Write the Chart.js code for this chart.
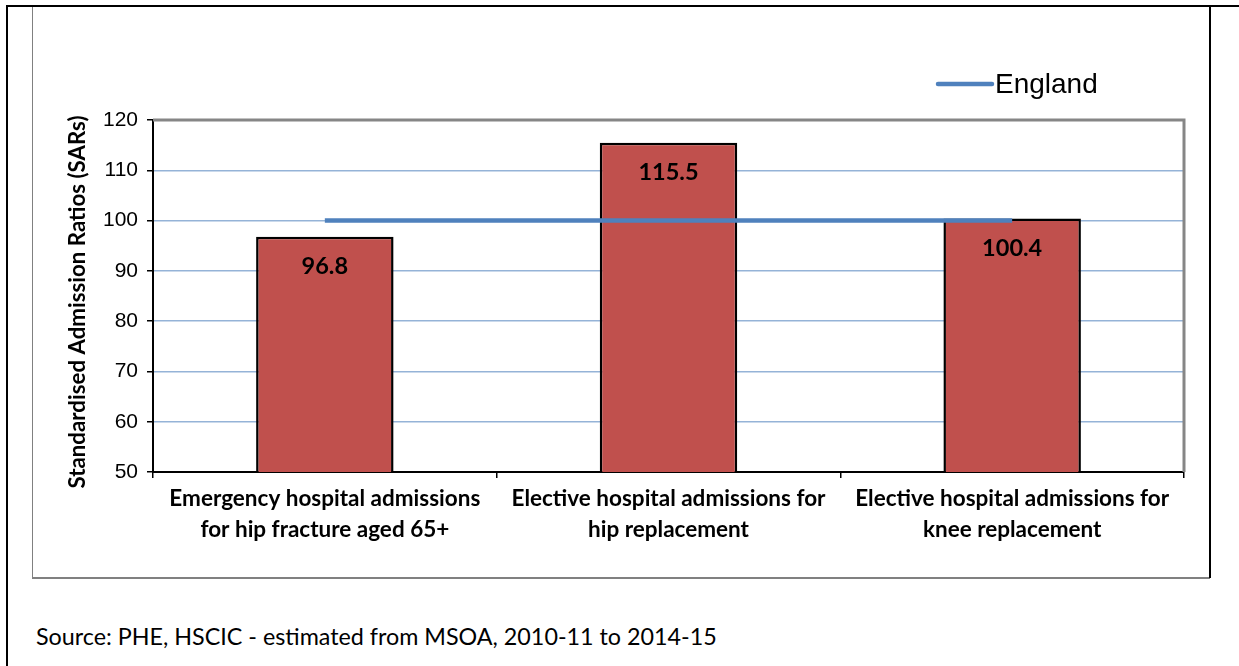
<!DOCTYPE html>
<html>
<head>
<meta charset="utf-8">
<script src="https://cdn.jsdelivr.net/npm/chart.js@4/dist/chart.umd.min.js"></script>
<style>
  html, body { margin:0; padding:0; background:#fff; }
  body { width:1239px; height:666px; position:relative; overflow:hidden; }
  .frame-top { position:absolute; left:6px; top:5px; width:1233px; height:2px; background:#000; }
  .frame-left { position:absolute; left:6px; top:5px; width:2px; height:661px; background:#000; }
  .frame-right { position:absolute; left:1209px; top:5px; width:2px; height:573px; background:#000; }
  .chart-box { position:absolute; left:32px; top:6px; width:1177px; height:570px; border-left:1px solid #808080; border-top:1px solid #808080; border-bottom:2px solid #808080; }
  #wrap { position:absolute; left:33px; top:7px; width:1176px; height:569px; }
  .source { position:absolute; left:36px; top:622px; font-family:Lato, "Open Sans", sans-serif; font-size:23.3px; color:#000; white-space:nowrap; }
</style>
</head>
<body>
<div class="chart-box"></div>
<div class="frame-top"></div>
<div class="frame-left"></div>
<div class="frame-right"></div>
<div id="wrap"><canvas id="chart" width="1176" height="569"></canvas></div>
<div class="source">Source: PHE, HSCIC - estimated from MSOA, 2010-11 to 2014-15</div>
<script>
(function(){
  // chart values
  const categories = [
    ['Emergency hospital admissions', 'for hip fracture aged 65+'],
    ['Elective hospital admissions for', 'hip replacement'],
    ['Elective hospital admissions for', 'knee replacement']
  ];
  const areaValues = [96.8, 115.5, 100.4];
  const englandValues = [100, 100, 100];
  const yTicks = [50, 60, 70, 80, 90, 100, 110, 120];
  const yTitle = 'Standardised Admission Ratios (SARs)';
  const legendLabel = 'England';

  const barRed = '#C0504D';
  const lineBlue = '#4F81BD';
  const gridBlue = '#95B3D7';
  const boldFont = 'Lato, "Open Sans", sans-serif';
  const plainFont = '"Liberation Sans", Arial, sans-serif';

  // labels inside the bars, plot border, rotated axis title and legend
  const extras = {
    id: 'extras',
    afterDatasetsDraw(chart){
      const ctx = chart.ctx;
      const meta = chart.getDatasetMeta(1);
      ctx.save();
      ctx.fillStyle = '#000';
      ctx.font = 'bold 23.5px ' + boldFont;
      ctx.textAlign = 'center';
      ctx.textBaseline = 'middle';
      meta.data.forEach((bar, i) => {
        ctx.fillText(areaValues[i].toFixed(1), bar.x, bar.y + 30);
      });
      ctx.restore();
    },
    afterDraw(chart){
      const ctx = chart.ctx;
      const a = chart.chartArea;
      ctx.save();
      // grey border on top and right of plot area
      ctx.strokeStyle = '#868686';
      ctx.lineWidth = 3;
      ctx.beginPath();
      ctx.moveTo(a.left, a.top);
      ctx.lineTo(a.right, a.top);
      ctx.lineTo(a.right, a.bottom);
      ctx.stroke();

      // y axis title
      ctx.fillStyle = '#000';
      ctx.font = 'bold 22.3px ' + boldFont;
      ctx.textAlign = 'center';
      ctx.textBaseline = 'middle';
      ctx.translate(45, (a.top + a.bottom) / 2 + 6);
      ctx.rotate(-Math.PI / 2);
      ctx.fillText(yTitle, 0, 0);
      ctx.restore();

      // legend
      ctx.save();
      ctx.strokeStyle = lineBlue;
      ctx.lineWidth = 4.5;
      ctx.lineCap = 'round';
      ctx.beginPath();
      ctx.moveTo(905, 77);
      ctx.lineTo(959, 77);
      ctx.stroke();
      ctx.fillStyle = '#000';
      ctx.font = '28px ' + plainFont;
      ctx.textBaseline = 'middle';
      ctx.fillText(legendLabel, 962, 78);
      ctx.restore();
    }
  };

  new Chart(document.getElementById('chart'), {
    type: 'bar',
    data: {
      labels: categories,
      datasets: [
        {
          type: 'line',
          label: legendLabel,
          data: englandValues,
          borderColor: lineBlue,
          borderWidth: 4.5,
          pointRadius: 0,
          fill: false,
          order: 0
        },
        {
          type: 'bar',
          label: 'Area',
          data: areaValues,
          backgroundColor: barRed,
          borderColor: '#000',
          borderWidth: 2.5,
          barPercentage: 0.4,
          categoryPercentage: 1,
          order: 1
        }
      ]
    },
    options: {
      responsive: false,
      animation: false,
      devicePixelRatio: 1,
      layout: { padding: { top: 113, right: 25, left: 0, bottom: 0 } },
      plugins: { legend: { display: false }, tooltip: { enabled: false } },
      scales: {
        x: {
          grid: { display: true, drawOnChartArea: false, tickLength: 6, tickColor: '#000', lineWidth: 1.5 },
          border: { color: '#000', width: 2 },
          ticks: {
            color: '#000',
            font: { family: boldFont, size: 22.5, weight: 'bold', lineHeight: 1.38 },
            padding: 5,
            maxRotation: 0,
            autoSkip: false
          },
          afterFit(scale){ scale.height = 104; }
        },
        y: {
          min: 50,
          max: 120,
          afterBuildTicks(scale){ scale.ticks = yTicks.map(v => ({ value: v })); },
          grid: {
            color: ctx => (ctx.tick && (ctx.tick.value === 50 || ctx.tick.value === 120)) ? 'rgba(0,0,0,0)' : gridBlue,
            lineWidth: 1.5,
            tickLength: 6,
            tickColor: '#000'
          },
          border: { color: '#000', width: 2 },
          ticks: {
            color: '#000',
            font: { family: plainFont, size: 21 },
            padding: 9
          },
          afterFit(scale){ scale.width = 120; }
        }
      }
    },
    plugins: [extras]
  });
})();
</script>
</body>
</html>
